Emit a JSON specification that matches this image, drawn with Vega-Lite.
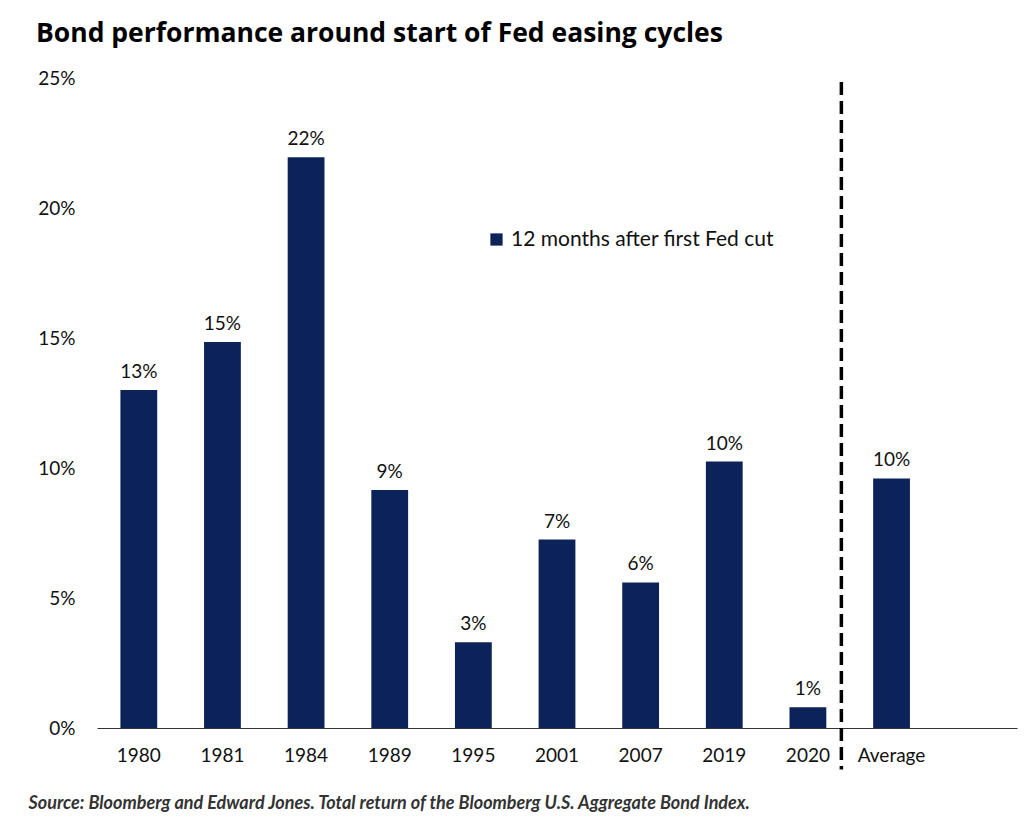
{
  "$schema": "https://vega.github.io/schema/vega-lite/v6.json",
  "width": 920,
  "height": 650,
  "autosize": {"type": "none"},
  "padding": {"left": 97, "top": 78, "right": 18, "bottom": 98},
  "background": "white",
  "title": {
    "text": "Bond performance around start of Fed easing cycles",
    "anchor": "start",
    "frame": "group",
    "dx": -61,
    "offset": 22,
    "font": "Open Sans",
    "fontSize": 26.5,
    "fontWeight": "bold",
    "color": "#000000"
  },
  "config": {"view": {"stroke": null}, "font": "Lato"},
  "data": {
    "values": [
      {"period": "1980", "value": 13.0, "label": "13%", "series": "12 months after first Fed cut"},
      {"period": "1981", "value": 14.85, "label": "15%", "series": "12 months after first Fed cut"},
      {"period": "1984", "value": 21.95, "label": "22%", "series": "12 months after first Fed cut"},
      {"period": "1989", "value": 9.15, "label": "9%", "series": "12 months after first Fed cut"},
      {"period": "1995", "value": 3.3, "label": "3%", "series": "12 months after first Fed cut"},
      {"period": "2001", "value": 7.25, "label": "7%", "series": "12 months after first Fed cut"},
      {"period": "2007", "value": 5.6, "label": "6%", "series": "12 months after first Fed cut"},
      {"period": "2019", "value": 10.25, "label": "10%", "series": "12 months after first Fed cut"},
      {"period": "2020", "value": 0.8, "label": "1%", "series": "12 months after first Fed cut"},
      {"period": "Average", "value": 9.6, "label": "10%", "series": "12 months after first Fed cut"}
    ]
  },
  "encoding": {
    "x": {
      "field": "period",
      "type": "nominal",
      "sort": null,
      "scale": {
        "domain": ["1980", "1981", "1984", "1989", "1995", "2001", "2007", "2019", "2020", "Average", " "],
        "paddingInner": 0,
        "paddingOuter": 0
      },
      "axis": {
        "title": "Source: Bloomberg and Edward Jones. Total return of the Bloomberg U.S. Aggregate Bond Index.",
        "titleFont": "Lato",
        "titleFontStyle": "italic",
        "titleFontWeight": "bold",
        "titleFontSize": 18,
        "titleColor": "#333333",
        "titleAnchor": "start",
        "titleAlign": "left",
        "titleBaseline": "middle",
        "titleX": -69,
        "titleY": 75,
        "titleLimit": 0,
        "labelAngle": 0,
        "ticks": false,
        "domainColor": "#333333",
        "domainWidth": 1,
        "labelFontSize": 19,
        "labelColor": "#111111",
        "labelPadding": 18
      }
    }
  },
  "layer": [
    {
      "mark": {"type": "bar", "width": {"band": 0.44}},
      "encoding": {
        "y": {
          "field": "value",
          "type": "quantitative",
          "scale": {"domain": [0, 25], "nice": false},
          "axis": {
            "title": null,
            "values": [0, 5, 10, 15, 20, 25],
            "labelExpr": "datum.value + '%'",
            "grid": false,
            "domain": false,
            "ticks": false,
            "labelPadding": 22,
            "labelFontSize": 19,
            "labelColor": "#111111"
          }
        },
        "color": {
          "field": "series",
          "type": "nominal",
          "scale": {"domain": ["12 months after first Fed cut"], "range": ["#0c2359"]},
          "legend": {
            "orient": "none",
            "legendX": 389,
            "legendY": 151,
            "title": null,
            "labelFontSize": 21,
            "labelLimit": 0,
            "labelColor": "#111111",
            "symbolType": "square",
            "symbolSize": 150,
            "symbolStrokeWidth": 0
          }
        }
      }
    },
    {
      "mark": {"type": "text", "baseline": "alphabetic", "dy": -12, "fontSize": 19, "color": "#111111"},
      "encoding": {
        "y": {"field": "value", "type": "quantitative"},
        "text": {"field": "label"}
      }
    },
    {
      "data": {"values": [{"period": "2020", "top": 24.85, "bottom": -1.6}]},
      "mark": {"type": "rule", "strokeDash": [13, 6], "strokeWidth": 3.5, "color": "#000000"},
      "encoding": {
        "x": {"field": "period", "type": "nominal", "bandPosition": 0.9},
        "y": {"field": "top", "type": "quantitative"},
        "y2": {"field": "bottom"}
      }
    }
  ]
}
